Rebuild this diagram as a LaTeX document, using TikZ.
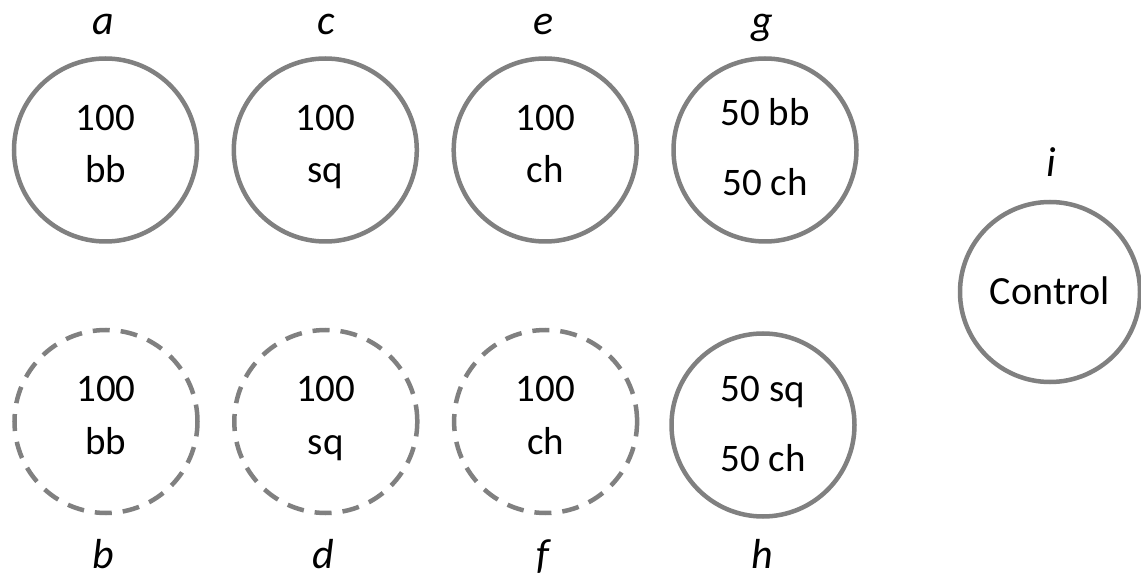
\documentclass[tikz,border=0pt]{standalone}
\usepackage{fontspec}
\setmainfont{Carlito}
\definecolor{ringgray}{RGB}{128,128,128}
\begin{document}
\begin{tikzpicture}[x=1pt,y=-1pt,
  ring/.style={circle, draw=ringgray, line width=4.5pt, minimum size=183pt, inner sep=0pt},
  dashring/.style={ring, dash pattern=on 17pt off 11pt},
  txt/.style={anchor=base, inner sep=0pt, font=\fontsize{39}{46}\selectfont},
  tag/.style={anchor=base, inner sep=0pt, font=\fontsize{42}{48}\selectfont\itshape}]
\fill[white] (0,0) rectangle (1141,585);
\useasboundingbox (0,0) rectangle (1141,585);

% top row: solid rings
\node[ring] (a) at (105.5,150) {};
\node[ring] (c) at (325.3,150) {};
\node[ring] (e) at (545.2,150) {};
\node[ring] (g) at (765,150) {};

% bottom row: dashed rings and one solid ring
\node[dashring] (b) at (106,421.5) {};
\node[dashring] (d) at (325.8,421.5) {};
\node[dashring] (f) at (545.6,421.5) {};
\node[ring] (h) at (763,425) {};

% control ring
\node[ring, minimum size=180pt] (i) at (1050,292) {};

% ring contents
\node[txt] (a1) at (105.5,130.7) {100};
\node[txt] (a2) at (105.5,182.7) {bb};
\node[txt] (c1) at (325.3,130.7) {100};
\node[txt] (c2) at (325.3,182.7) {sq};
\node[txt] (e1) at (545.2,130.7) {100};
\node[txt] (e2) at (545.2,182.7) {ch};
\node[txt] (g1) at (765,126) {50 bb};
\node[txt] (g2) at (765,196) {50 ch};

\node[txt] (b1) at (106,402) {100};
\node[txt] (b2) at (106,454) {bb};
\node[txt] (d1) at (325.8,402) {100};
\node[txt] (d2) at (325.8,454) {sq};
\node[txt] (f1) at (545.6,402) {100};
\node[txt] (f2) at (545.6,454) {ch};
\node[txt] (h1) at (763,401) {50 sq};
\node[txt] (h2) at (763,471) {50 ch};

\node[txt, font=\fontsize{40}{48}\selectfont] (i1) at (1050,305) {Control};

% letter tags
\node[tag] (ta) at (103,35) {a};
\node[tag] (tc) at (326,35) {c};
\node[tag] (te) at (544,35) {e};
\node[tag] (tg) at (762,35) {g};
\node[tag] (tb) at (103,568) {b};
\node[tag] (td) at (323,568) {d};
\node[tag] (tf) at (543,568) {f};
\node[tag] (th) at (762,568) {h};
\node[tag] (ti) at (1051,177) {i};
\end{tikzpicture}
\end{document}
